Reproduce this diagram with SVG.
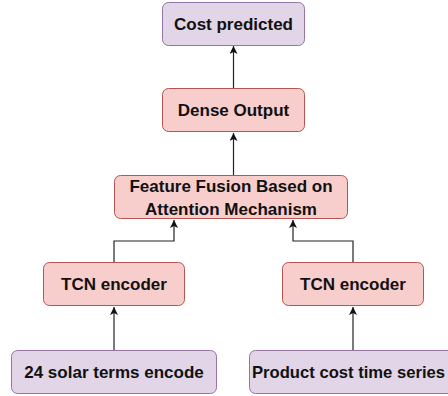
<svg xmlns="http://www.w3.org/2000/svg" width="448" height="396" viewBox="0 0 448 396">
<style>
.pink{fill:#f8cecc;stroke:#b85450;stroke-width:1}
.purple{fill:#e1d5e7;stroke:#9673a6;stroke-width:1}
text{font-family:"Liberation Sans",Arial,sans-serif;font-weight:bold;font-size:17px;fill:#111;text-anchor:middle}
.edge{fill:none;stroke:#222;stroke-width:1.2;marker-end:url(#arr)}
</style>
<defs>
<marker id="arr" markerWidth="10" markerHeight="10" refX="8" refY="4" orient="auto" markerUnits="userSpaceOnUse">
<path d="M0,0 L8,4 L0,8 L2,4 z" fill="#111"/>
</marker>
</defs>
<rect width="448" height="396" fill="#fff"/>
<g id="connectors">
<path class="edge" d="M233.5,88 V46"/>
<path class="edge" d="M233.5,175 V133"/>
<path class="edge" d="M114,262 V241 H174 V220"/>
<path class="edge" d="M353,262 V241 H293 V220"/>
<path class="edge" d="M114,350 V307"/>
<path class="edge" d="M353,350 V307"/>
</g>
<g id="cost">
<rect class="purple" x="162.5" y="2.5" width="142" height="43" rx="6"/>
<text x="233.5" y="30">Cost predicted</text>
</g>
<g id="dense">
<rect class="pink" x="162.5" y="88.5" width="142" height="43" rx="6"/>
<text x="233.5" y="116">Dense Output</text>
</g>
<g id="fusion">
<rect class="pink" x="114.5" y="175.5" width="233" height="43" rx="6"/>
<text x="231" y="192">Feature Fusion Based on</text>
<text x="231" y="215">Attention Mechanism</text>
</g>
<g id="tcn-left">
<rect class="pink" x="43.5" y="262.5" width="141" height="43" rx="6"/>
<text x="114" y="290">TCN encoder</text>
</g>
<g id="tcn-right">
<rect class="pink" x="282.5" y="262.5" width="141" height="43" rx="6"/>
<text x="353" y="290">TCN encoder</text>
</g>
<g id="solar">
<rect class="purple" x="11.5" y="350.5" width="205" height="43" rx="6"/>
<text x="114" y="378">24 solar terms encode</text>
</g>
<g id="product">
<rect class="purple" x="249.5" y="350.5" width="207" height="43" rx="6"/>
<text x="252" y="378" style="text-anchor:start" textLength="193" lengthAdjust="spacingAndGlyphs">Product cost time series</text>
</g>
</svg>
